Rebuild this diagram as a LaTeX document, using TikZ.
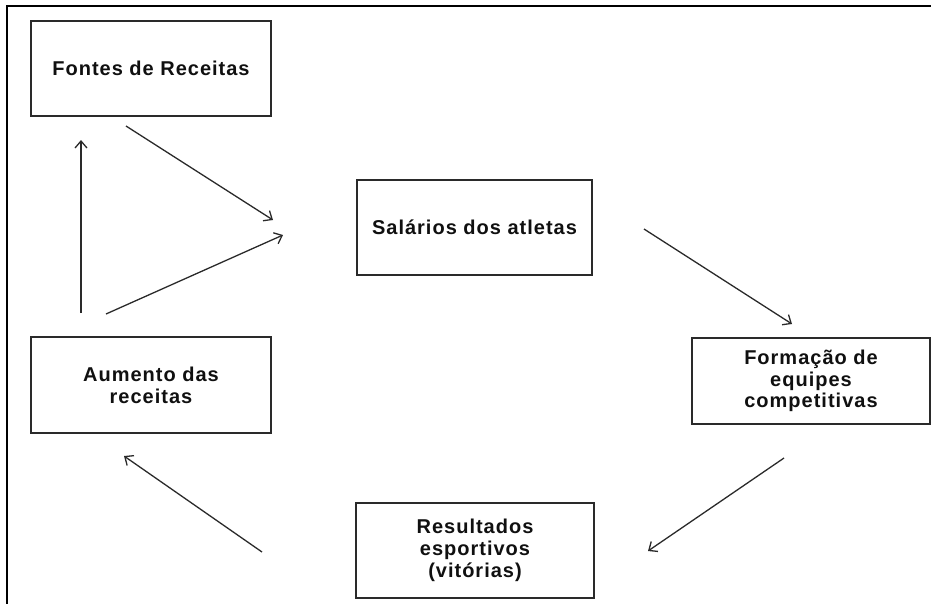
\documentclass[tikz,border=0pt]{standalone}
\usepackage{fontspec}
\setmainfont{Liberation Sans}[LetterSpace=5]
\usetikzlibrary{arrows.meta}
\definecolor{ink}{HTML}{101010}
\definecolor{edge}{HTML}{2A2A2A}
\tikzset{
  box/.style={draw=edge, line width=1.3pt, fill=white, inner sep=0pt,
    align=center, font=\fontsize{20}{21.7}\selectfont\bfseries, text=ink},
  link/.style={draw=edge, line width=1.3pt,
    -{Straight Barb[length=7pt,width=12pt,line width=1.3pt]}},
  frame/.style={draw=black, line width=2pt}
}
\begin{document}
\begin{tikzpicture}[x=1pt,y=-1pt]
\useasboundingbox (0,0) rectangle (931,603);
% outer frame (cut by the picture edges)
\coordinate (fbl) at (7,606);
\coordinate (ftl) at (7,6);
\coordinate (ftr) at (934,6);
\draw[frame] (fbl) -- (ftl) -- (ftr);
% boxes
\node[box, minimum width=240pt, minimum height=95pt] (fontes) at (151,68.5) {Fontes de Receitas};
\node[box, minimum width=235pt, minimum height=95pt] (salarios) at (474.5,227.5) {Salários dos atletas};
\node[box, minimum width=238pt, minimum height=86pt] (formacao) at (811,381) {Formação de\\equipes\\competitivas};
\node[box, minimum width=238pt, minimum height=95pt] (resultados) at (475,550.5) {Resultados\\esportivos\\(vitórias)};
\node[box, minimum width=240pt, minimum height=96pt] (aumento) at (151,385) {Aumento das\\receitas};
% arrow end points
\coordinate (a1s) at (126,126); \coordinate (a1e) at (273,220);
\coordinate (a2s) at (81,313);  \coordinate (a2e) at (81,140);
\coordinate (a3s) at (106,314); \coordinate (a3e) at (283,235);
\coordinate (a4s) at (644,229); \coordinate (a4e) at (792,324);
\coordinate (a5s) at (784,458); \coordinate (a5e) at (648,551);
\coordinate (a6s) at (262,552); \coordinate (a6e) at (124,456);
% connectors
\draw[link] (a1s) -- (a1e);
\draw[link] (a2s) -- (a2e);
\draw[link] (a3s) -- (a3e);
\draw[link] (a4s) -- (a4e);
\draw[link] (a5s) -- (a5e);
\draw[link] (a6s) -- (a6e);
\end{tikzpicture}
\end{document}
